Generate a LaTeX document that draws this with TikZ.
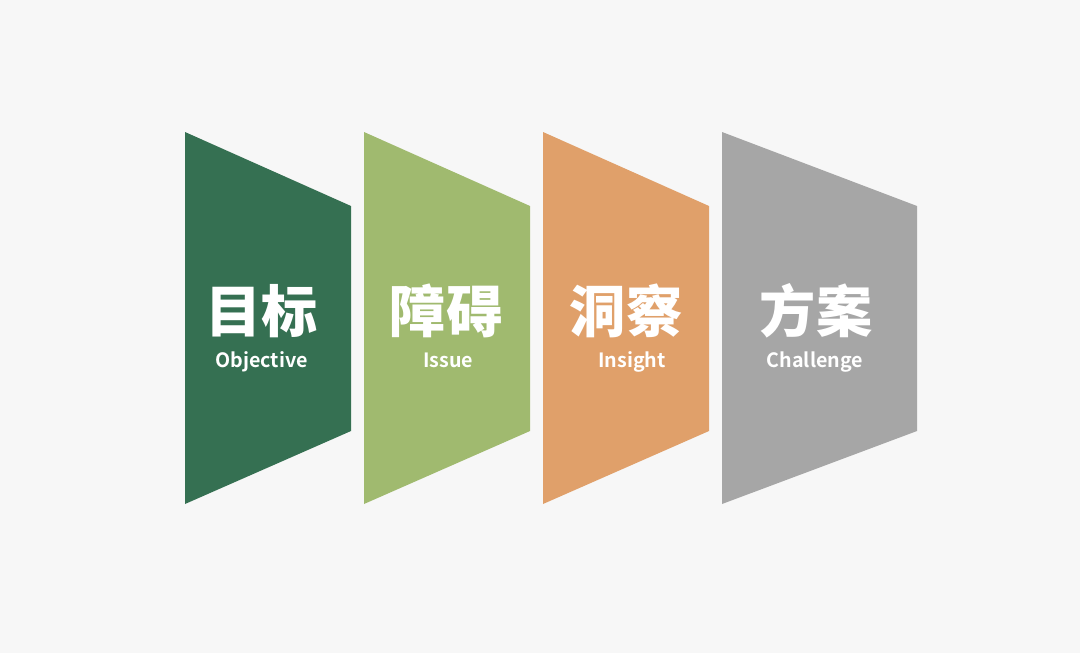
\documentclass[tikz,border=0pt]{standalone}
\usepackage{fontspec}
\setmainfont{Noto Sans CJK SC}
\newfontfamily\cnbold{Noto Sans CJK SC Black}
\newfontfamily\enbold{Noto Sans CJK SC Bold}
\usepackage{tikz}
\usetikzlibrary{positioning, calc}

\definecolor{bgfill}{HTML}{F7F7F7}
\definecolor{objgreen}{HTML}{357052}
\definecolor{issuegreen}{HTML}{A0BA6F}
\definecolor{insightorange}{HTML}{E0A06A}
\definecolor{challgray}{HTML}{A6A6A6}

\begin{document}
\begin{tikzpicture}[
    x=0.025cm, y=-0.025cm,
    panel/.style={draw=none},
    cntitle/.style={font=\cnbold\fontsize{40}{40}\selectfont, text=white, inner sep=0pt},
    entitle/.style={font=\enbold\fontsize{14}{14}\selectfont, text=white, inner sep=0pt, anchor=base}
]
% background
\fill[bgfill] (0,0) rectangle (1080,653);
\useasboundingbox (0,0) rectangle (1080,653);

% heights of the slanted panels
\def\ytop{132}
\def\ybot{504}
\def\yrtop{206}
\def\yrbot{431}

% Objective
\fill[objgreen] (185,\ytop) -- (351,\yrtop) -- (351,\yrbot) -- (185,\ybot) -- cycle;
\node[cntitle] (t1) at (261.5,311) {目标};
\node[entitle] (e1) at (261.5,367) {Objective};

% Issue
\fill[issuegreen] (364,\ytop) -- (530,\yrtop) -- (530,\yrbot) -- (364,\ybot) -- cycle;
\node[cntitle] (t2) at (446,311) {障碍};
\node[entitle] (e2) at (448,367) {Issue};

% Insight
\fill[insightorange] (543,\ytop) -- (709,\yrtop) -- (709,\yrbot) -- (543,\ybot) -- cycle;
\node[cntitle] (t3) at (626,311) {洞察};
\node[entitle] (e3) at (632,367) {Insight};

% Challenge
\fill[challgray] (722,\ytop) -- (917,\yrtop) -- (917,\yrbot) -- (722,\ybot) -- cycle;
\node[cntitle] (t4) at (816,311) {方案};
\node[entitle] (e4) at (815,367) {Challenge};
\end{tikzpicture}
\end{document}
